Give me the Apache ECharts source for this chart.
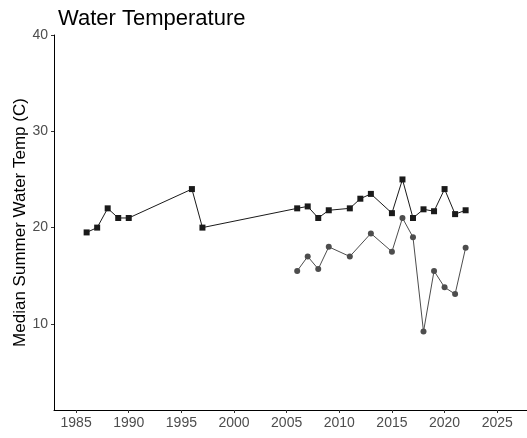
<!DOCTYPE html>
<html>
<head>
<meta charset="utf-8">
<script src="https://cdn.jsdelivr.net/npm/echarts@6/dist/echarts.min.js"></script>
<style>
  html, body { margin: 0; padding: 0; background: #fff; }
  #chart { width: 527px; height: 438px; }
</style>
</head>
<body>
<div id="chart"></div>
<script>
// 年份刻度
const xTicks = [1985, 1990, 1995, 2000, 2005, 2010, 2015, 2020, 2025]
const yTicks = [10, 20, 30, 40]

// 方块系列
const squareYears = [1986, 1987, 1988, 1989, 1990, 1996, 1997, 2006, 2007, 2008, 2009, 2011, 2012, 2013, 2015, 2016, 2017, 2018, 2019, 2020, 2021, 2022]
const squareTemps = [19.5, 20.0, 22.0, 21.0, 21.0, 24.0, 20.0, 22.0, 22.2, 21.0, 21.8, 22.0, 23.0, 23.5, 21.5, 25.0, 21.0, 21.9, 21.7, 24.0, 21.4, 21.8]

// 圆点系列
const circleYears = [2006, 2007, 2008, 2009, 2011, 2013, 2015, 2016, 2017, 2018, 2019, 2020, 2021, 2022]
const circleTemps = [15.5, 17.0, 15.7, 18.0, 17.0, 19.4, 17.5, 21.0, 19.0, 9.2, 15.5, 13.8, 13.1, 17.9]

const zip = (xs, ys) => xs.map((x, i) => [x, ys[i]])

const axisCommon = {
  type: 'value',
  splitLine: { show: false },
  axisLine: { show: true, lineStyle: { color: '#000', width: 1 } },
  axisTick: { show: true, length: 3, lineStyle: { color: '#333' } },
  axisLabel: {
    color: '#4d4d4d',
    fontSize: 14,
    fontFamily: 'Liberation Sans, Arial',
    formatter: v => String(v),
  },
}

const option = {
  animation: false,
  backgroundColor: '#fff',
  title: {
    text: 'Water Temperature',
    left: 53,
    top: 3,
    textStyle: { color: '#000', fontSize: 22, fontWeight: 'normal', fontFamily: 'Liberation Sans, Arial' },
  },
  grid: { left: 54, right: 0, top: 35, bottom: 28, containLabel: false, outerBoundsMode: 'none' },
  xAxis: {
    ...axisCommon,
    min: 1982.9,
    max: 2027.83,
    axisTick: { ...axisCommon.axisTick, customValues: xTicks },
    axisLabel: { ...axisCommon.axisLabel, margin: 6, customValues: xTicks },
  },
  yAxis: {
    ...axisCommon,
    min: 1.06,
    max: 40,
    name: 'Median Summer Water Temp (C)',
    nameLocation: 'middle',
    nameGap: 25,
    nameMoveOverlap: false,
    nameTextStyle: { color: '#000', fontSize: 17, fontFamily: 'Liberation Sans, Arial' },
    axisTick: { ...axisCommon.axisTick, customValues: yTicks },
    axisLabel: { ...axisCommon.axisLabel, margin: 6, customValues: yTicks },
  },
  series: [
    {
      type: 'line',
      data: zip(squareYears, squareTemps),
      symbol: 'rect',
      symbolSize: 6,
      itemStyle: { color: '#1a1a1a' },
      lineStyle: { color: '#1a1a1a', width: 1 },
    },
    {
      type: 'line',
      data: zip(circleYears, circleTemps),
      symbol: 'circle',
      symbolSize: 6,
      itemStyle: { color: '#4d4d4d' },
      lineStyle: { color: '#4d4d4d', width: 1 },
    },
  ],
}

const chart = echarts.init(document.getElementById('chart'))
chart.setOption(option)
</script>
</body>
</html>
